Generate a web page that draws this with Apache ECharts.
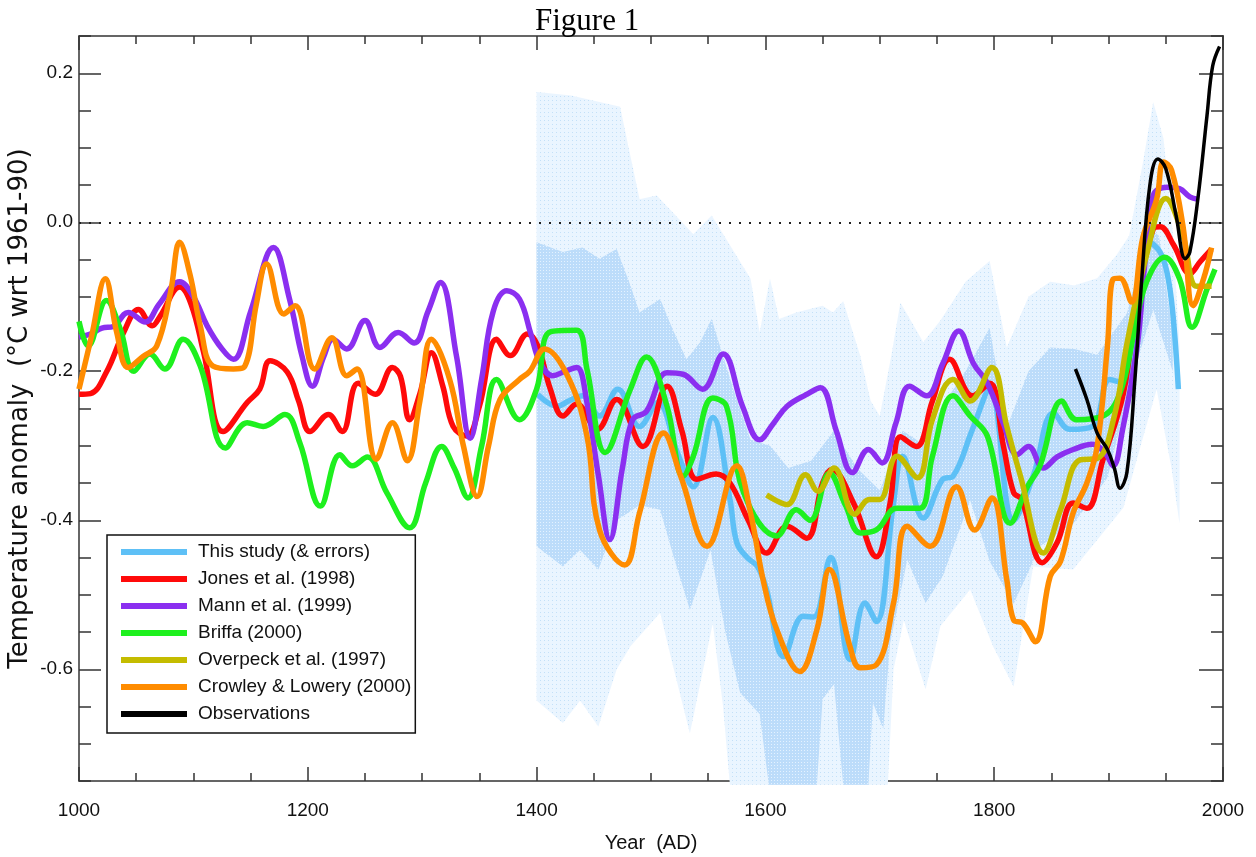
<!DOCTYPE html>
<html>
<head>
<meta charset="utf-8">
<script src="https://cdn.jsdelivr.net/npm/echarts@6/dist/echarts.min.js"></script>
<style>
html,body{margin:0;padding:0;background:#fff;}
#chart{width:1256px;height:857px;}
</style>
</head>
<body>
<div id="chart"></div>
<script>
// ---- Data (year, anomaly in degC wrt 1961-90) ----
const xTickLabels = [1000, 1200, 1400, 1600, 1800, 2000];
const yTickLabels = [-0.6, -0.4, -0.2, 0.0, 0.2];
const yMinorTicks = [-0.75,-0.7,-0.65,-0.55,-0.5,-0.45,-0.35,-0.3,-0.25,-0.15,-0.1,-0.05,0.05,0.1,0.15,0.25];

const seriesNames = ['This study (& errors)','Jones et al. (1998)','Mann et al. (1999)','Briffa (2000)','Overpeck et al. (1997)','Crowley & Lowery (2000)','Observations'];

const thisStudy = [[1401,-0.231],[1418,-0.247],[1428,-0.24],[1440,-0.233],[1455,-0.26],[1471,-0.224],[1490,-0.274],[1506,-0.242],[1523,-0.309],[1537,-0.355],[1554,-0.262],[1569,-0.372],[1575,-0.43],[1584,-0.45],[1593,-0.462],[1601,-0.493],[1616,-0.583],[1633,-0.529],[1642,-0.53],[1657,-0.45],[1674,-0.587],[1687,-0.511],[1697,-0.536],[1712,-0.377],[1720,-0.314],[1738,-0.397],[1755,-0.345],[1764,-0.341],[1781,-0.278],[1796,-0.224],[1817,-0.4],[1834,-0.341],[1852,-0.256],[1866,-0.278],[1886,-0.274],[1901,-0.211],[1913,-0.216],[1925,-0.144],[1936,-0.027],[1945,-0.04],[1951,-0.067],[1956,-0.12],[1961,-0.224]];

const jones = [[1000,-0.231],[1010,-0.23],[1024,-0.201],[1039,-0.148],[1052,-0.117],[1064,-0.139],[1071,-0.126],[1088,-0.087],[1098,-0.11],[1109,-0.175],[1126,-0.281],[1147,-0.242],[1158,-0.224],[1167,-0.186],[1182,-0.201],[1192,-0.24],[1202,-0.281],[1218,-0.258],[1230,-0.281],[1244,-0.216],[1259,-0.231],[1274,-0.195],[1281,-0.207],[1289,-0.265],[1298,-0.23],[1308,-0.175],[1318,-0.22],[1327,-0.274],[1339,-0.287],[1350,-0.247],[1365,-0.157],[1377,-0.179],[1392,-0.15],[1401,-0.166],[1412,-0.224],[1423,-0.26],[1435,-0.244],[1453,-0.278],[1470,-0.238],[1493,-0.301],[1514,-0.22],[1527,-0.28],[1540,-0.345],[1557,-0.338],[1569,-0.35],[1585,-0.4],[1601,-0.444],[1619,-0.408],[1636,-0.424],[1650,-0.35],[1658,-0.332],[1677,-0.377],[1697,-0.449],[1709,-0.377],[1718,-0.288],[1732,-0.301],[1746,-0.24],[1761,-0.184],[1781,-0.233],[1796,-0.216],[1808,-0.3],[1817,-0.363],[1824,-0.372],[1842,-0.457],[1855,-0.43],[1869,-0.377],[1881,-0.384],[1895,-0.319],[1913,-0.229],[1925,-0.1],[1939,-0.009],[1945,-0.006],[1957,-0.031],[1971,-0.069],[1980,-0.053],[1990,-0.036]];

const mann = [[1000,-0.154],[1010,-0.15],[1020,-0.142],[1030,-0.14],[1043,-0.121],[1058,-0.134],[1070,-0.11],[1088,-0.08],[1100,-0.1],[1112,-0.139],[1125,-0.17],[1135,-0.184],[1150,-0.12],[1170,-0.034],[1184,-0.103],[1195,-0.18],[1204,-0.22],[1214,-0.18],[1222,-0.157],[1234,-0.17],[1250,-0.132],[1263,-0.168],[1279,-0.148],[1293,-0.162],[1305,-0.12],[1316,-0.081],[1330,-0.18],[1342,-0.29],[1352,-0.21],[1362,-0.12],[1374,-0.092],[1385,-0.103],[1395,-0.15],[1403,-0.188],[1414,-0.206],[1425,-0.2],[1435,-0.195],[1444,-0.242],[1454,-0.34],[1464,-0.426],[1475,-0.33],[1484,-0.265],[1496,-0.254],[1514,-0.202],[1528,-0.204],[1545,-0.224],[1563,-0.177],[1580,-0.247],[1595,-0.292],[1607,-0.27],[1619,-0.247],[1636,-0.231],[1648,-0.222],[1662,-0.28],[1676,-0.336],[1690,-0.305],[1702,-0.323],[1714,-0.27],[1726,-0.22],[1741,-0.233],[1755,-0.19],[1769,-0.146],[1782,-0.19],[1794,-0.216],[1808,-0.27],[1820,-0.312],[1830,-0.301],[1843,-0.33],[1855,-0.315],[1869,-0.305],[1886,-0.298],[1897,-0.31],[1904,-0.327],[1912,-0.28],[1925,-0.166],[1932,-0.05],[1939,0.036],[1951,0.047],[1962,0.045],[1971,0.034],[1978,0.031]];

const briffa = [[1000,-0.133],[1008,-0.166],[1024,-0.105],[1036,-0.143],[1048,-0.2],[1062,-0.177],[1075,-0.197],[1091,-0.157],[1106,-0.193],[1128,-0.303],[1147,-0.269],[1161,-0.274],[1180,-0.258],[1193,-0.296],[1211,-0.381],[1228,-0.312],[1239,-0.327],[1252,-0.315],[1269,-0.363],[1289,-0.41],[1303,-0.35],[1317,-0.301],[1328,-0.33],[1340,-0.37],[1352,-0.3],[1365,-0.211],[1385,-0.265],[1400,-0.224],[1412,-0.147],[1435,-0.145],[1444,-0.197],[1460,-0.309],[1482,-0.224],[1496,-0.181],[1514,-0.247],[1528,-0.341],[1537,-0.314],[1554,-0.236],[1566,-0.247],[1581,-0.363],[1610,-0.421],[1627,-0.386],[1639,-0.4],[1656,-0.337],[1670,-0.38],[1683,-0.417],[1697,-0.413],[1715,-0.384],[1735,-0.384],[1746,-0.314],[1764,-0.233],[1779,-0.26],[1794,-0.287],[1814,-0.404],[1829,-0.355],[1840,-0.327],[1859,-0.24],[1872,-0.265],[1895,-0.26],[1910,-0.229],[1922,-0.15],[1933,-0.081],[1949,-0.047],[1962,-0.076],[1973,-0.141],[1986,-0.09],[1993,-0.063]];

const overpeck = [[1601,-0.366],[1610,-0.374],[1619,-0.379],[1635,-0.339],[1646,-0.361],[1660,-0.33],[1678,-0.392],[1691,-0.372],[1700,-0.372],[1715,-0.314],[1733,-0.343],[1746,-0.265],[1764,-0.211],[1779,-0.24],[1798,-0.195],[1811,-0.274],[1823,-0.341],[1843,-0.444],[1858,-0.386],[1875,-0.319],[1890,-0.317],[1905,-0.26],[1916,-0.163],[1933,-0.045],[1950,0.032],[1965,-0.018],[1977,-0.086],[1990,-0.086]];

const crowley = [[1000,-0.224],[1011,-0.153],[1023,-0.076],[1033,-0.148],[1043,-0.195],[1056,-0.18],[1068,-0.166],[1080,-0.094],[1088,-0.027],[1097,-0.07],[1106,-0.139],[1117,-0.193],[1135,-0.197],[1145,-0.193],[1155,-0.11],[1164,-0.056],[1179,-0.123],[1189,-0.112],[1206,-0.197],[1221,-0.155],[1234,-0.206],[1243,-0.197],[1260,-0.318],[1274,-0.269],[1287,-0.32],[1298,-0.24],[1308,-0.157],[1324,-0.211],[1336,-0.3],[1348,-0.368],[1358,-0.3],[1368,-0.238],[1385,-0.211],[1394,-0.2],[1407,-0.17],[1427,-0.206],[1444,-0.287],[1455,-0.413],[1477,-0.46],[1490,-0.39],[1511,-0.283],[1526,-0.341],[1549,-0.435],[1575,-0.327],[1587,-0.39],[1598,-0.48],[1610,-0.547],[1630,-0.603],[1645,-0.547],[1656,-0.466],[1674,-0.57],[1683,-0.598],[1697,-0.594],[1712,-0.511],[1724,-0.408],[1744,-0.435],[1767,-0.355],[1783,-0.413],[1798,-0.37],[1811,-0.48],[1817,-0.534],[1825,-0.538],[1836,-0.563],[1849,-0.475],[1858,-0.455],[1869,-0.39],[1881,-0.35],[1890,-0.301],[1899,-0.166],[1904,-0.076],[1910,-0.075],[1920,-0.107],[1930,-0.02],[1942,0.031],[1948,0.081],[1955,0.07],[1965,-0.005],[1974,-0.112],[1983,-0.076],[1990,-0.034]];

const observations = [[1871,-0.197],[1881,-0.238],[1890,-0.283],[1899,-0.305],[1905,-0.33],[1910,-0.357],[1916,-0.336],[1923,-0.211],[1929,-0.076],[1936,0.049],[1943,0.085],[1950,0.072],[1959,0.009],[1967,-0.049],[1971,-0.04],[1978,0.031],[1986,0.143],[1991,0.21],[1997,0.236]];

// error bands of "This study"
const outerUpper = [[1400,0.175],[1430,0.17],[1473,0.155],[1480,0.103],[1490,0.031],[1505,0.036],[1519,0.013],[1537,-0.016],[1553,0.009],[1569,-0.031],[1587,-0.076],[1595,-0.148],[1604,-0.076],[1612,-0.13],[1627,-0.121],[1650,-0.112],[1659,-0.121],[1668,-0.106],[1683,-0.18],[1692,-0.24],[1700,-0.26],[1710,-0.18],[1718,-0.108],[1738,-0.161],[1753,-0.132],[1775,-0.08],[1796,-0.052],[1811,-0.168],[1830,-0.1],[1849,-0.08],[1870,-0.085],[1890,-0.075],[1907,-0.044],[1918,-0.018],[1930,0.08],[1939,0.161],[1948,0.112],[1956,-0.013],[1962,-0.166]];
const outerLower = [[1400,-0.642],[1423,-0.672],[1438,-0.642],[1454,-0.677],[1470,-0.6],[1482,-0.569],[1508,-0.524],[1520,-0.6],[1534,-0.686],[1554,-0.538],[1563,-0.65],[1569,-0.755],[1707,-0.755],[1712,-0.6],[1721,-0.534],[1740,-0.627],[1753,-0.542],[1779,-0.493],[1799,-0.569],[1817,-0.623],[1834,-0.462],[1869,-0.466],[1913,-0.383],[1928,-0.3],[1942,-0.224],[1955,-0.33],[1962,-0.404]];
const innerUpper = [[1400,-0.027],[1423,-0.04],[1440,-0.034],[1455,-0.049],[1470,-0.036],[1482,-0.085],[1490,-0.121],[1508,-0.103],[1519,-0.144],[1531,-0.184],[1543,-0.161],[1553,-0.13],[1563,-0.18],[1572,-0.224],[1587,-0.292],[1604,-0.3],[1620,-0.33],[1640,-0.32],[1660,-0.28],[1680,-0.33],[1700,-0.36],[1720,-0.28],[1740,-0.3],[1753,-0.25],[1775,-0.2],[1796,-0.142],[1811,-0.276],[1830,-0.2],[1849,-0.168],[1870,-0.17],[1890,-0.178],[1916,-0.122],[1936,-0.009],[1944,-0.018],[1956,-0.148]];
const innerLower = [[1400,-0.435],[1423,-0.462],[1438,-0.44],[1454,-0.466],[1470,-0.4],[1490,-0.38],[1508,-0.386],[1520,-0.45],[1534,-0.52],[1552,-0.44],[1565,-0.55],[1578,-0.632],[1595,-0.66],[1603,-0.755],[1645,-0.755],[1650,-0.64],[1660,-0.62],[1668,-0.755],[1690,-0.755],[1694,-0.645],[1703,-0.68],[1709,-0.565],[1724,-0.453],[1740,-0.511],[1755,-0.475],[1779,-0.373],[1796,-0.455],[1817,-0.512],[1840,-0.435],[1869,-0.405],[1899,-0.343],[1922,-0.2],[1939,-0.117],[1956,-0.2]];

const colors = ['#5ec0f6','#ff0a0a','#8b2ff0','#1ef01e','#c4bc00','#ff8c00','#000000'];

// dotted fill patterns for the error bands
function makePattern(bg, dot, size) {
  const c = document.createElement('canvas');
  c.width = size; c.height = size;
  const g = c.getContext('2d');
  g.fillStyle = bg; g.fillRect(0, 0, size, size);
  g.fillStyle = dot; g.fillRect(0, 0, 1, 1);
  return {image: c, repeat: 'repeat'};
}
const outerFill = makePattern('#eaf5ff', '#c3e0f8', 4);
const innerFill = makePattern('#bcdcfa', '#e4f2ff', 3);

function bandSeries(upper, lower, fill) {
  return {
    type: 'custom',
    silent: true,
    z: 1,
    data: [0],
    renderItem: function (params, api) {
      const pts = upper.map(p => api.coord(p)).concat(lower.slice().reverse().map(p => api.coord(p)));
      return {type: 'polygon', shape: {points: pts}, style: {fill: fill, stroke: null}};
    }
  };
}

const sans = "'Liberation Sans', Arial, sans-serif";

function lineSeries(name, data, color, width) {
  return {
    name: name, type: 'line', data: data, smooth: 0.4, showSymbol: false, z: 3,
    lineStyle: {color: color, width: width}, itemStyle: {color: color}, silent: true
  };
}

const series = [
  bandSeries(outerUpper, outerLower, outerFill),
  bandSeries(innerUpper, innerLower, innerFill),
  lineSeries(seriesNames[0], thisStudy, colors[0], 5.5),
  lineSeries(seriesNames[1], jones, colors[1], 5.5),
  lineSeries(seriesNames[2], mann, colors[2], 5.5),
  lineSeries(seriesNames[3], briffa, colors[3], 5.5),
  lineSeries(seriesNames[4], overpeck, colors[4], 5.5),
  lineSeries(seriesNames[5], crowley, colors[5], 5.5),
  lineSeries(seriesNames[6], observations, colors[6], 3.5)
];
series[2].markLine = {
  silent: true, symbol: 'none', label: {show: false},
  lineStyle: {color: '#222', type: [2, 8], width: 2},
  data: [{yAxis: 0}]
};

const axisLineStyle = {color: '#333', width: 1.5};

const option = {
  animation: false,
  backgroundColor: '#ffffff',
  title: {
    text: 'Figure 1', left: 530, top: 1,
    textStyle: {fontFamily: "'Liberation Serif', 'Times New Roman', serif", fontWeight: 'normal', fontSize: 31, color: '#000'}
  },
  grid: {left: 79, right: 33, top: 36, bottom: 76, containLabel: false, outerBoundsMode: 'none'},
  legend: {
    orient: 'vertical', left: 107, top: 535, z: 20,
    data: seriesNames, icon: 'rect', itemWidth: 66, itemHeight: 6, itemGap: 5,
    padding: [6, 4, 8, 14],
    backgroundColor: '#fff', borderColor: '#111', borderWidth: 1.5, borderRadius: 0,
    textStyle: {fontFamily: sans, fontSize: 19, lineHeight: 22, color: '#111', padding: [0, 0, 0, 6]},
    selectedMode: false
  },
  xAxis: [
    {
      type: 'value', min: 1000, max: 2000, interval: 200, position: 'bottom',
      name: 'Year  (AD)', nameLocation: 'middle', nameGap: 52, nameMoveOverlap: false,
      nameTextStyle: {fontFamily: sans, fontSize: 20, color: '#111'},
      axisLine: {show: true, onZero: false, lineStyle: axisLineStyle},
      axisTick: {show: true, inside: true, length: 14, lineStyle: axisLineStyle},
      minorTick: {show: true, splitNumber: 4, length: 8, lineStyle: axisLineStyle},
      axisLabel: {fontFamily: sans, fontSize: 19, color: '#111', margin: 20, customValues: xTickLabels,
        formatter: v => String(v)},
      splitLine: {show: false}
    },
    {
      type: 'value', min: 1000, max: 2000, interval: 200, position: 'top',
      axisLine: {show: true, onZero: false, lineStyle: axisLineStyle},
      axisTick: {show: true, inside: true, length: 14, lineStyle: axisLineStyle},
      minorTick: {show: true, splitNumber: 4, length: 8, lineStyle: axisLineStyle},
      axisLabel: {show: false}, splitLine: {show: false}
    }
  ],
  yAxis: [
    {
      type: 'value', min: -0.75, max: 0.25, position: 'left',
      name: 'Temperature anomaly  (°C wrt 1961-90)', nameLocation: 'middle', nameGap: 46, nameRotate: 90,
      nameMoveOverlap: false,
      nameTextStyle: {fontFamily: "'DejaVu Sans', sans-serif", fontSize: 26, color: '#111'},
      axisLine: {show: true, onZero: false, lineStyle: axisLineStyle},
      axisTick: {show: true, inside: true, length: 22, lineStyle: axisLineStyle, customValues: yTickLabels},
      axisLabel: {fontFamily: sans, fontSize: 19, color: '#111', margin: 6, customValues: yTickLabels,
        formatter: v => v.toFixed(1)},
      splitLine: {show: false}
    },
    {
      type: 'value', min: -0.75, max: 0.25, position: 'left',
      axisLine: {show: false, onZero: false},
      axisTick: {show: true, inside: true, length: 12, lineStyle: axisLineStyle, customValues: yMinorTicks},
      axisLabel: {show: false}, splitLine: {show: false}
    },
    {
      type: 'value', min: -0.75, max: 0.25, position: 'right',
      axisLine: {show: true, onZero: false, lineStyle: {color: '#555', width: 2}},
      axisTick: {show: true, inside: true, length: 24, lineStyle: axisLineStyle, customValues: yTickLabels},
      axisLabel: {show: false}, splitLine: {show: false}
    },
    {
      type: 'value', min: -0.75, max: 0.25, position: 'right',
      axisLine: {show: false, onZero: false},
      axisTick: {show: true, inside: true, length: 12, lineStyle: axisLineStyle, customValues: yMinorTicks},
      axisLabel: {show: false}, splitLine: {show: false}
    }
  ],
  series: series
};

const chart = echarts.init(document.getElementById('chart'), null, {renderer: 'canvas'});
chart.setOption(option);
</script>
</body>
</html>
